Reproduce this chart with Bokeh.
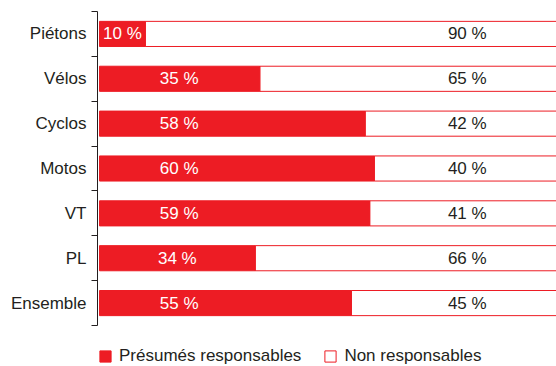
from bokeh.plotting import figure
from bokeh.models import (ColumnDataSource, Range1d, FixedTicker, Legend, LegendItem,
                          LinearAxis)
from bokeh.core.properties import value
from bokeh.embed import file_html
from bokeh.resources import INLINE

categories = ["Piétons", "Vélos", "Cyclos", "Motos", "VT", "PL", "Ensemble"]
responsables = [10, 35, 58, 60, 59, 34, 55]
non_responsables = [90, 65, 42, 40, 41, 66, 45]
series_names = ["Présumés responsables", "Non responsables"]

RED = "#ED1C24"
TXT = "#231F20"
FONT = "Liberation Sans"

n = len(categories)
ys = [n - 0.5 - i for i in range(n)]
src = ColumnDataSource(dict(
    y=ys,
    resp=responsables,
    non=non_responsables,
    total=[a + b for a, b in zip(responsables, non_responsables)],
    resp_lbl=[f"{v} %" for v in responsables],
    non_lbl=[f"{v} %" for v in non_responsables],
    resp_x=[min(v / 2.0, 17.4) for v in responsables],
    non_x=[80.3] * n,
))

p = figure(width=556, height=366, output_backend="svg", toolbar_location=None,
           x_range=Range1d(-0.437, 99.78), y_range=Range1d(-0.914, n),
           min_border_left=97, min_border_right=0, min_border_top=11,
           min_border_bottom=0, outline_line_color=None)
p.xaxis.visible = False
p.yaxis.visible = False
p.grid.visible = False

yax = LinearAxis(
    bounds=(0, n),
    ticker=FixedTicker(ticks=ys, minor_ticks=list(range(n + 1))),
    major_label_overrides={y: c for y, c in zip(ys, categories)},
    major_tick_out=0, major_tick_in=0,
    minor_tick_out=6, minor_tick_in=0,
    minor_tick_line_color="#231F20", minor_tick_line_width=1,
    axis_line_color="#231F20", axis_line_width=1,
    major_label_standoff=5,
    major_label_text_font=FONT, major_label_text_font_size="17px",
    major_label_text_color=TXT,
)
p.add_layout(yax, "left")

r_non = p.hbar(y="y", left="resp", right="total", height=0.56, source=src,
               fill_color="white", line_color=RED, line_width=1)
r_resp = p.hbar(y="y", left=0, right="resp", height=0.56, source=src,
                fill_color=RED, line_color=RED, line_width=1)

p.text(x="resp_x", y="y", text="resp_lbl", source=src, text_color="white",
       text_font=value(FONT), text_font_size="17px", text_align="center",
       text_baseline="middle")
p.text(x="non_x", y="y", text="non_lbl", source=src, text_color=TXT,
       text_font=value(FONT), text_font_size="17px", text_align="center",
       text_baseline="middle")

legend = Legend(items=[LegendItem(label=series_names[0], renderers=[r_resp]),
                       LegendItem(label=series_names[1], renderers=[r_non])],
                location=(1, 0), orientation="horizontal",
                glyph_width=14, glyph_height=14, label_height=14,
                label_standoff=7, spacing=22, padding=0, margin=0,
                border_line_color=None, background_fill_alpha=0,
                label_text_font=FONT, label_text_font_size="17px",
                label_text_color=TXT)
p.add_layout(legend, "center")

open("out.html", "w").write(file_html(p, INLINE))
